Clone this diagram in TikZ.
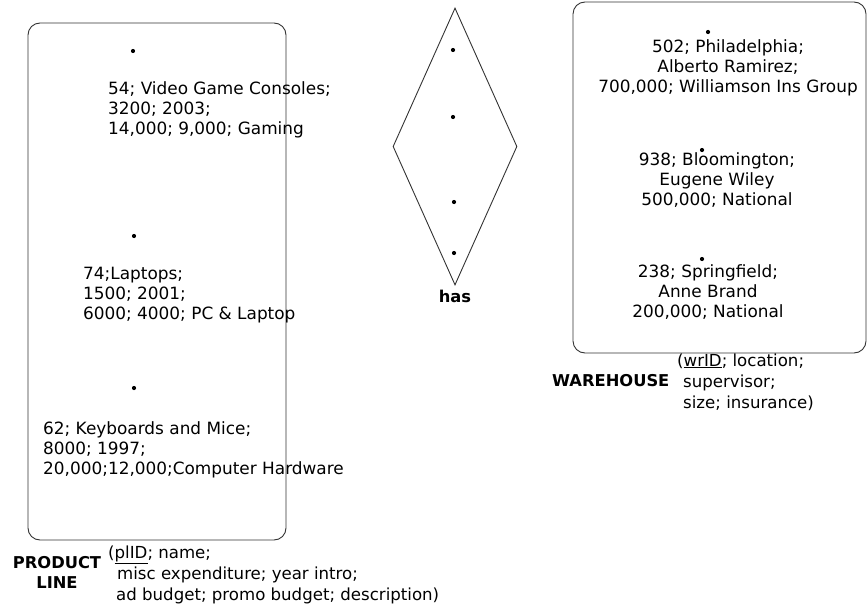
\documentclass[tikz,border=0pt]{standalone}
\usepackage{fontspec}
\setmainfont{DejaVu Sans}
\usetikzlibrary{shapes.geometric}
\begin{document}
\begin{tikzpicture}[x=1pt,y=-1pt,
  outline/.style={draw=black!80,line width=0.9pt},
  entitybox/.style={outline,rounded corners=12pt,inner sep=0pt},
  relbox/.style={outline,shape=diamond,inner sep=0pt},
  dot/.style={circle,fill=black,inner sep=0pt,minimum size=4.2pt},
  rowtext/.style={inner sep=0pt,font=\fontsize{16.9}{19.7}\selectfont},
  attrtext/.style={inner sep=0pt,align=left,font=\fontsize{16.6}{21}\selectfont},
  title/.style={inner sep=0pt,align=center,font=\fontsize{16.3}{20}\selectfont\bfseries}]
\useasboundingbox (0,0) rectangle (867,605);

% entity and relationship outlines
\node[entitybox,minimum width=258pt,minimum height=517pt] (pl) at (157,281.5) {};
\node[entitybox,minimum width=293pt,minimum height=351pt] (wh) at (719.5,177.5) {};
\node[relbox,minimum width=124pt,minimum height=277pt] (has) at (455,146.5) {};

% product line instances (anchored on the baseline of the last line)
\node[dot] (p1) at (133,51) {};
\node[dot] (p2) at (134,236) {};
\node[dot] (p3) at (134,388) {};
\node[rowtext,anchor=base west,align=left] (t1) at (108,134)
  {54; Video Game Consoles;\\3200; 2003;\\14,000; 9,000; Gaming};
\node[rowtext,anchor=base west,align=left] (t2) at (83,319)
  {74;Laptops;\\1500; 2001;\\6000; 4000; PC \& Laptop};
\node[rowtext,anchor=base west,align=left] (t3) at (43,474)
  {62; Keyboards and Mice;\\8000; 1997;\\20,000;12,000;Computer Hardware};

% relationship instances
\node[dot] (r1) at (453,50) {};
\node[dot] (r2) at (453,117) {};
\node[dot] (r3) at (454,202) {};
\node[dot] (r4) at (454,253) {};

% warehouse instances
\node[dot] (w1) at (708,32) {};
\node[dot] (w2) at (702,150) {};
\node[dot] (w3) at (702,259) {};
\node[rowtext,anchor=base,align=center] (u1) at (728,92)
  {502; Philadelphia;\\Alberto Ramirez;\\700,000; Williamson Ins Group};
\node[rowtext,anchor=base,align=center] (u2) at (717,205)
  {938; Bloomington;\\Eugene Wiley\\500,000; National};
\node[rowtext,anchor=base,align=center] (u3) at (708,317)
  {238; Springfield;\\Anne Brand\\200,000; National};

% names and attribute lists
\node[title] (hasname) at (455,296) {has};
\node[title] (plname) at (57,572) {PRODUCT\\LINE};
\node[attrtext,anchor=base west] (platt) at (108,600)
  {(\underline{plID}; name;\\\hspace*{9pt}misc expenditure; year intro;\\\hspace*{8pt}ad budget; promo budget; description)};
\node[title,anchor=base west] (whname) at (552,386) {WAREHOUSE};
\node[attrtext,anchor=base west] (whatt) at (677,408)
  {(\underline{wrID}; location;\\\hspace*{6pt}supervisor;\\\hspace*{6pt}size; insurance)};
\end{tikzpicture}
\end{document}
